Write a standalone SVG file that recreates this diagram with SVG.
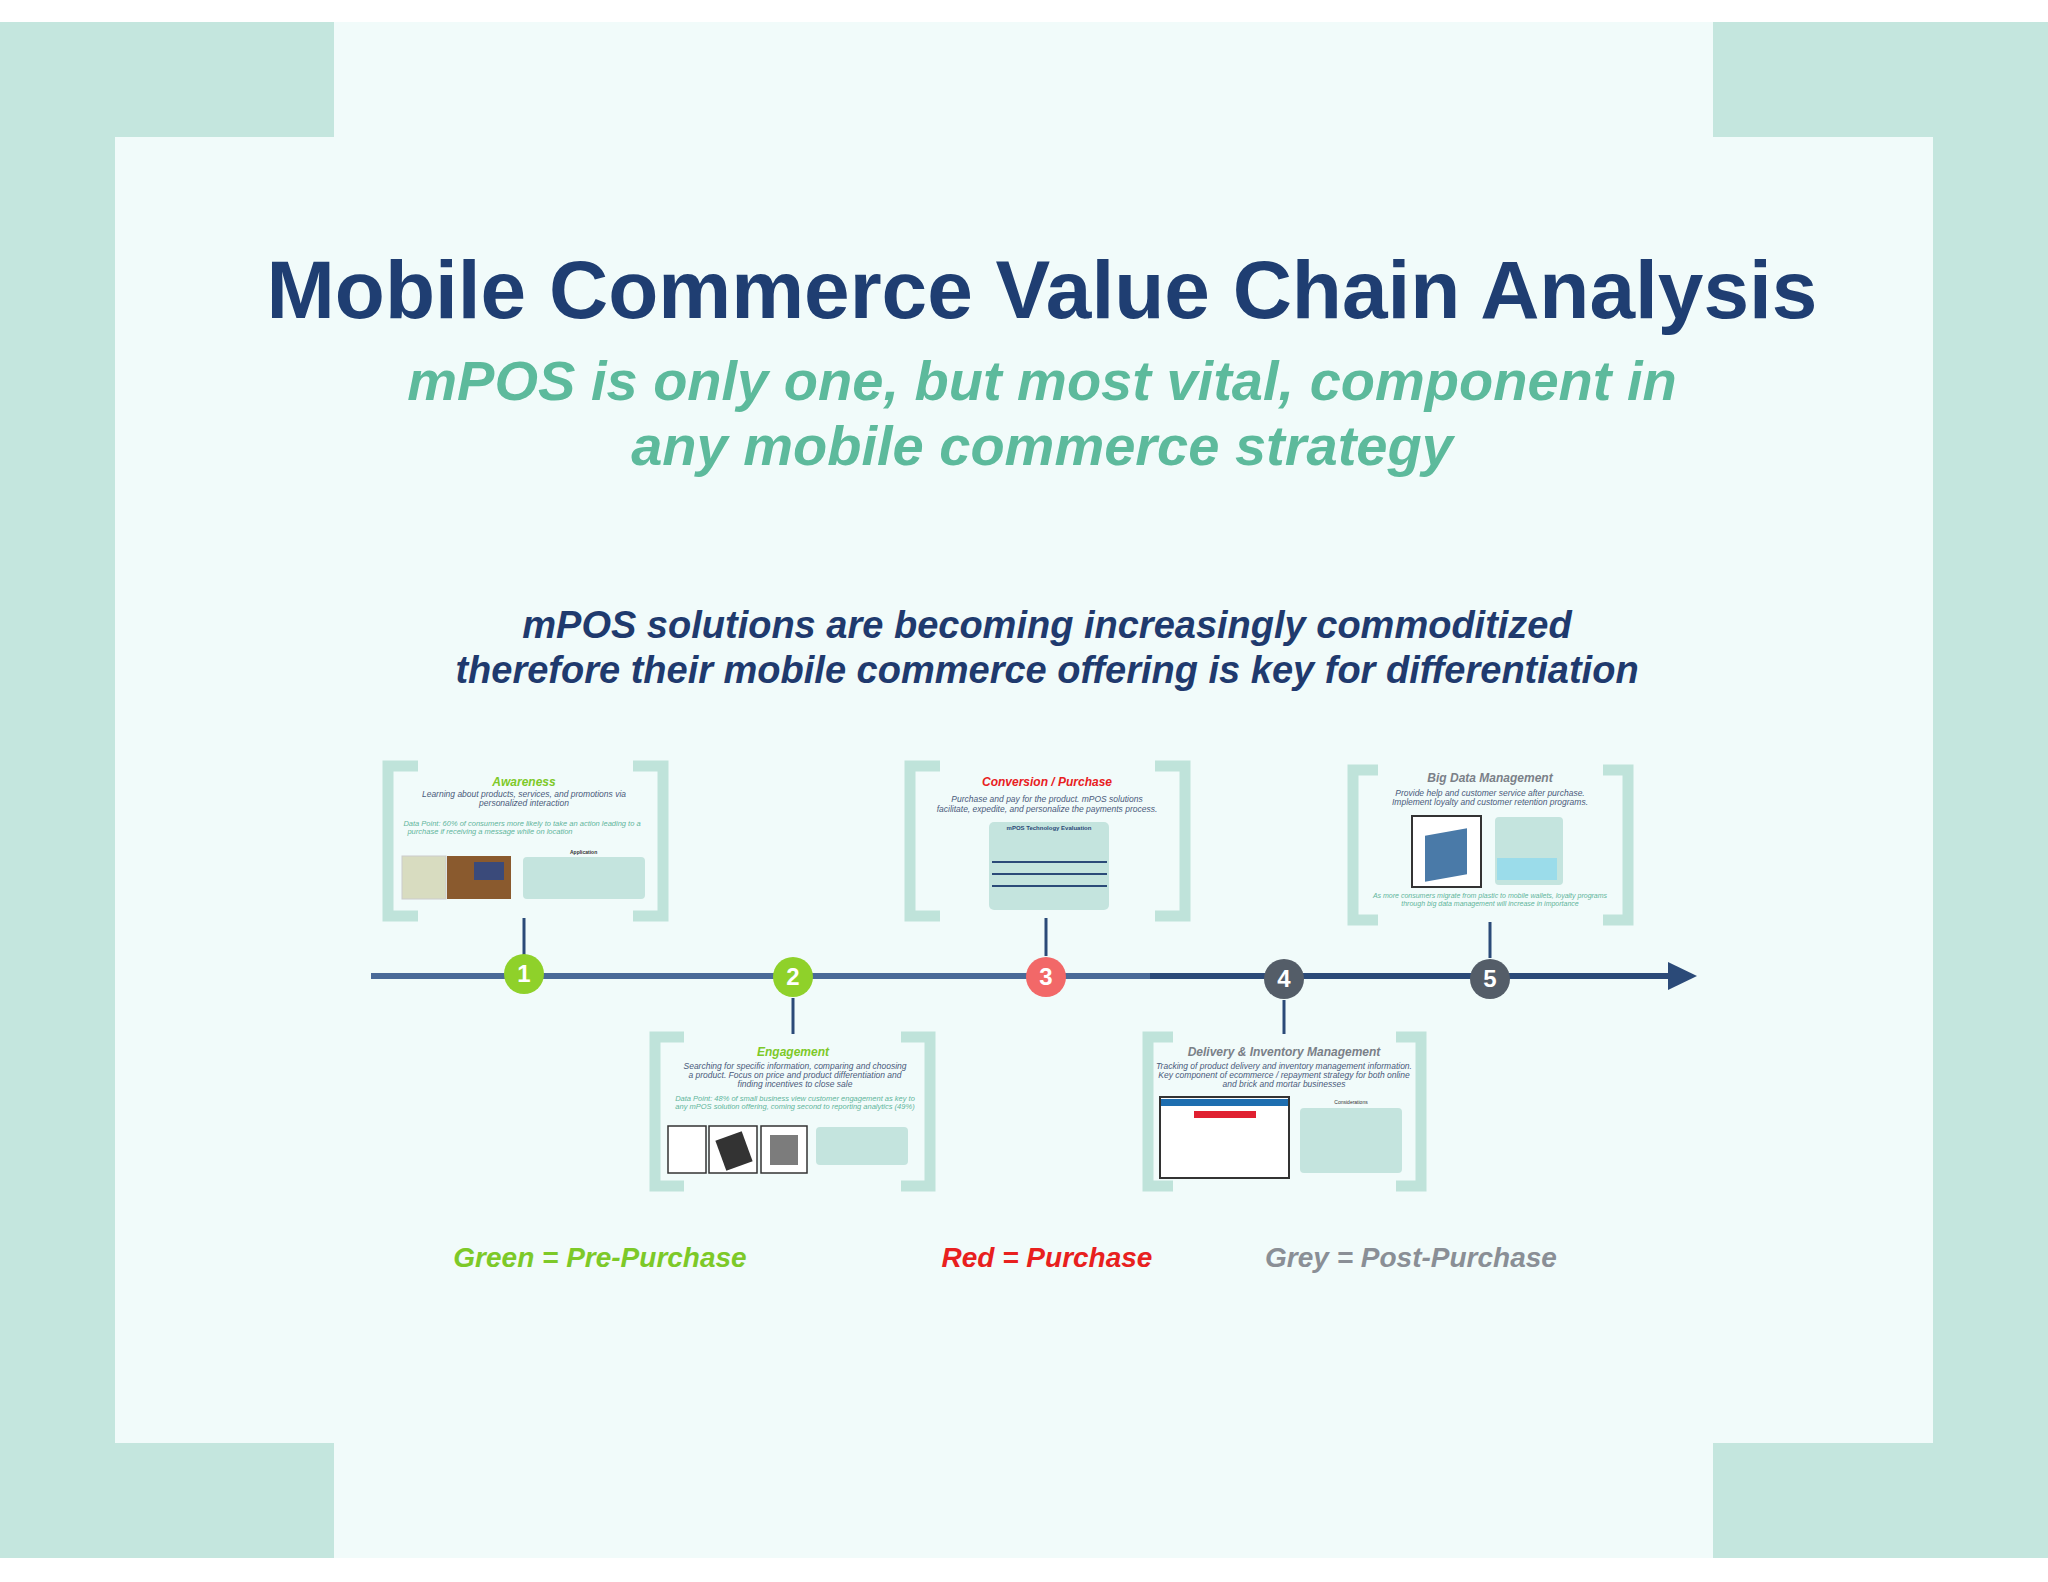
<svg xmlns="http://www.w3.org/2000/svg" width="2048" height="1582" viewBox="0 0 2048 1582">
<defs>
<style>
.brk{fill:none;stroke:#bfe3da;stroke-width:11}
.ct{font-family:"Liberation Sans",Arial,sans-serif;font-style:italic;font-weight:bold;text-anchor:middle}
.cs{font-family:"Liberation Sans",Arial,sans-serif;font-style:italic;font-size:8.5px;fill:#4a5a7a;text-anchor:middle}
.tiny{font-family:"Liberation Sans",Arial,sans-serif;font-size:5px;fill:#5a7a70}
.box{fill:#c4e4de}
.stem{stroke:#2b4a78;stroke-width:3}
.num{font-family:"Liberation Sans",Arial,sans-serif;font-weight:bold;font-size:24px;fill:#fff;text-anchor:middle}
.leg{font-family:"Liberation Sans",Arial,sans-serif;font-style:italic;font-weight:bold;font-size:28px;text-anchor:middle}
</style>
</defs>
<rect width="2048" height="1582" fill="#ffffff"/>
<rect x="0" y="22" width="2048" height="1536" fill="#c4e6de"/>
<rect x="115" y="137" width="1818" height="1306" fill="#f1fbfa"/>
<rect x="334" y="22" width="1379" height="116" fill="#f1fbfa"/>
<rect x="334" y="1442" width="1379" height="116" fill="#f1fbfa"/>

<text x="1042" y="318" font-family="Liberation Sans,Arial,sans-serif" font-weight="bold" font-size="82" fill="#1f3e72" text-anchor="middle">Mobile Commerce Value Chain Analysis</text>
<text x="1042" y="400" font-family="Liberation Sans,Arial,sans-serif" font-weight="bold" font-style="italic" font-size="56" fill="#5dba9c" text-anchor="middle">mPOS is only one, but most vital, component in</text>
<text x="1042" y="465" font-family="Liberation Sans,Arial,sans-serif" font-weight="bold" font-style="italic" font-size="56" fill="#5dba9c" text-anchor="middle">any mobile commerce strategy</text>
<text x="1047" y="638" font-family="Liberation Sans,Arial,sans-serif" font-weight="bold" font-style="italic" font-size="38" fill="#1f3a6e" text-anchor="middle">mPOS solutions are becoming increasingly commoditized</text>
<text x="1047" y="683" font-family="Liberation Sans,Arial,sans-serif" font-weight="bold" font-style="italic" font-size="38" fill="#1f3a6e" text-anchor="middle">therefore their mobile commerce offering is key for differentiation</text>

<g id="connectors">
<line x1="371" y1="976" x2="1672" y2="976" stroke="#4a6a98" stroke-width="6"/>
<line x1="1150" y1="976" x2="1672" y2="976" stroke="#2b4a78" stroke-width="6"/>
<polygon points="1668,962 1697,976 1668,990" fill="#2b4a78"/>
<line class="stem" x1="524" y1="918" x2="524" y2="956"/>
<line class="stem" x1="793" y1="998" x2="793" y2="1034"/>
<line class="stem" x1="1046" y1="918" x2="1046" y2="956"/>
<line class="stem" x1="1284" y1="1000" x2="1284" y2="1034"/>
<line class="stem" x1="1490" y1="922" x2="1490" y2="958"/>
</g>

<g id="n1"><circle cx="524" cy="974" r="20" fill="#8fd12a"/><text class="num" x="524" y="982">1</text></g>
<g id="n2"><circle cx="793" cy="977" r="20" fill="#8fd12a"/><text class="num" x="793" y="985">2</text></g>
<g id="n3"><circle cx="1046" cy="977" r="20" fill="#f26868"/><text class="num" x="1046" y="985">3</text></g>
<g id="n4"><circle cx="1284" cy="979" r="20" fill="#545d68"/><text class="num" x="1284" y="987">4</text></g>
<g id="n5"><circle cx="1490" cy="979" r="20" fill="#545d68"/><text class="num" x="1490" y="987">5</text></g>

<g id="card1">
<path class="brk" d="M418,766 H388 V916 H418 M633,766 H663 V916 H633"/>
<text class="ct" x="524" y="786" font-size="12" fill="#7dc928">Awareness</text>
<text class="cs" x="524" y="797">Learning about products, services, and promotions via</text>
<text class="cs" x="524" y="806">personalized interaction</text>
<text class="cs" x="522" y="826" style="fill:#5fb59a;font-size:7.5px">Data Point:  60% of consumers more likely to take an action leading to a</text>
<text class="cs" x="490" y="834" style="fill:#5fb59a;font-size:7.5px">purchase if receiving a message while on location</text>
<rect x="402" y="856" width="44" height="43" fill="#d8dcc0" stroke="#ccc"/>
<rect x="447" y="856" width="64" height="43" fill="#8a5a2e"/>
<rect x="474" y="862" width="30" height="18" fill="#3a4a7a"/>
<text class="tiny" x="570" y="854" style="font-weight:bold;fill:#333">Application</text>
<rect class="box" x="523" y="857" width="122" height="42" rx="4"/>
</g>

<g id="card2">
<path class="brk" d="M684,1037 H655 V1186 H684 M901,1037 H930 V1186 H901"/>
<text class="ct" x="793" y="1056" font-size="12" fill="#7dc928">Engagement</text>
<text class="cs" x="795" y="1069">Searching for specific information, comparing and choosing</text>
<text class="cs" x="795" y="1078">a product.  Focus on price and product differentiation and</text>
<text class="cs" x="795" y="1087">finding incentives to close sale</text>
<text class="cs" x="795" y="1101" style="fill:#5fb59a;font-size:7.5px">Data Point:  48% of small business view customer engagement as key to</text>
<text class="cs" x="795" y="1109" style="fill:#5fb59a;font-size:7.5px">any mPOS solution offering, coming second to reporting analytics (49%)</text>
<rect x="668" y="1126" width="38" height="47" fill="#fff" stroke="#333" stroke-width="1.5"/>
<rect x="709" y="1126" width="48" height="47" fill="#fff" stroke="#333" stroke-width="1.5"/>
<rect x="720" y="1135" width="28" height="32" fill="#333" transform="rotate(-20 734 1151)"/>
<rect x="761" y="1126" width="46" height="47" fill="#fff" stroke="#333" stroke-width="1.5"/>
<rect x="770" y="1135" width="28" height="30" fill="#444" opacity="0.7"/>
<rect class="box" x="816" y="1127" width="92" height="38" rx="4"/>
</g>

<g id="card3">
<path class="brk" d="M940,766 H910 V916 H940 M1155,766 H1185 V916 H1155"/>
<text class="ct" x="1047" y="786" font-size="12" fill="#e8201e">Conversion / Purchase</text>
<text class="cs" x="1047" y="802">Purchase and pay for the product.  mPOS solutions</text>
<text class="cs" x="1047" y="812">facilitate, expedite, and personalize the payments process.</text>
<rect class="box" x="989" y="822" width="120" height="88" rx="5"/>
<text class="tiny" x="1049" y="830" text-anchor="middle" style="font-weight:bold;fill:#2b4a78;font-size:6px">mPOS Technology Evaluation</text>
<line x1="992" y1="862" x2="1107" y2="862" stroke="#2b4a78" stroke-width="2"/>
<line x1="992" y1="874" x2="1107" y2="874" stroke="#2b4a78" stroke-width="2"/>
<line x1="992" y1="886" x2="1107" y2="886" stroke="#2b4a78" stroke-width="2"/>
</g>

<g id="card4">
<path class="brk" d="M1173,1037 H1148 V1186 H1173 M1396,1037 H1421 V1186 H1396"/>
<text class="ct" x="1284" y="1056" font-size="12" fill="#7a8088">Delivery &amp; Inventory Management</text>
<text class="cs" x="1284" y="1069">Tracking of product delivery and inventory management information.</text>
<text class="cs" x="1284" y="1078">Key component of ecommerce / repayment strategy for both online</text>
<text class="cs" x="1284" y="1087">and brick and mortar businesses</text>
<rect x="1160" y="1097" width="129" height="81" fill="#fff" stroke="#333" stroke-width="2"/>
<rect x="1161" y="1099" width="127" height="7" fill="#1e6eb0"/>
<rect x="1194" y="1111" width="62" height="7" fill="#e02030"/>
<text class="tiny" x="1351" y="1104" text-anchor="middle" style="fill:#333">Considerations</text>
<rect class="box" x="1300" y="1108" width="102" height="65" rx="4"/>
</g>

<g id="card5">
<path class="brk" d="M1378,770 H1353 V920 H1378 M1603,770 H1628 V920 H1603"/>
<text class="ct" x="1490" y="782" font-size="12" fill="#7a8088">Big Data Management</text>
<text class="cs" x="1490" y="796">Provide help and customer service after purchase.</text>
<text class="cs" x="1490" y="805">Implement loyalty and customer retention programs.</text>
<rect x="1412" y="816" width="69" height="71" fill="#fff" stroke="#333" stroke-width="2"/>
<rect x="1425" y="832" width="42" height="46" fill="#4a7aa8" transform="skewY(-10)" transform-origin="1446 855"/>
<rect class="box" x="1495" y="817" width="68" height="68" rx="4"/>
<rect x="1497" y="858" width="60" height="22" fill="#8ad8f0" opacity="0.7"/>
<text class="cs" x="1490" y="898" style="fill:#5fb59a;font-size:7px">As more consumers migrate from plastic to mobile wallets, loyalty programs</text>
<text class="cs" x="1490" y="906" style="fill:#5fb59a;font-size:7px">through big data management will increase in importance</text>
</g>

<g id="legend">
<text class="leg" x="600" y="1267" fill="#7dc928">Green = Pre-Purchase</text>
<text class="leg" x="1047" y="1267" fill="#e8201e">Red = Purchase</text>
<text class="leg" x="1411" y="1267" fill="#8a8f96">Grey = Post-Purchase</text>
</g>
</svg>
